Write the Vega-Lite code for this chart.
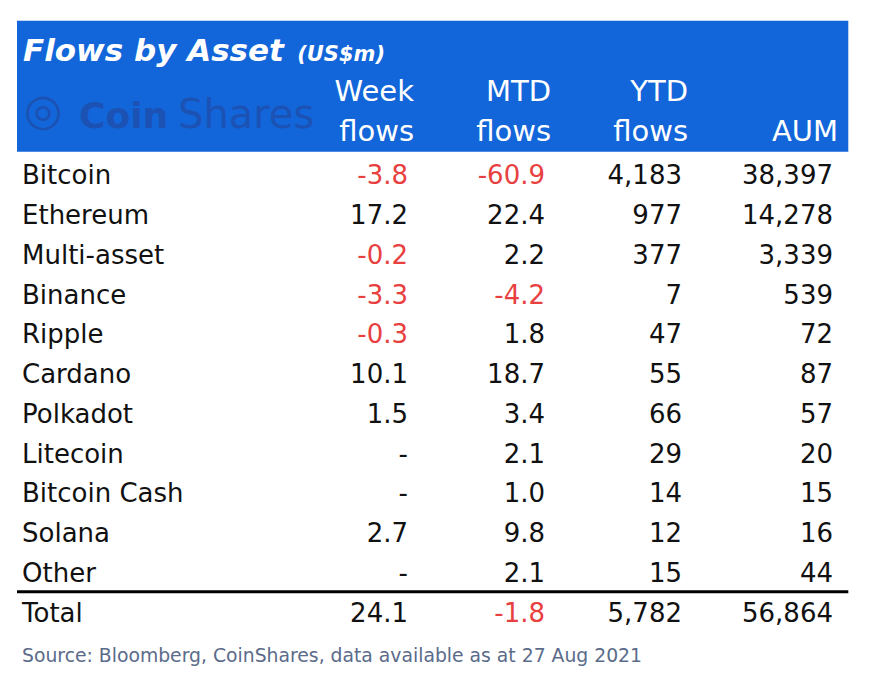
{
  "$schema": "https://vega.github.io/schema/vega-lite/v6.json",
  "width": 876,
  "height": 683,
  "autosize": {"type": "none"},
  "padding": 0,
  "background": "white",
  "config": {"view": {"stroke": null}, "text": {"font": "DejaVu Sans"}},
  "datasets": {
    "cells": [
      {"asset": "Bitcoin", "col": "Week flows", "value": "-3.8"},
      {"asset": "Bitcoin", "col": "MTD flows", "value": "-60.9"},
      {"asset": "Bitcoin", "col": "YTD flows", "value": "4,183"},
      {"asset": "Bitcoin", "col": "AUM", "value": "38,397"},
      {"asset": "Ethereum", "col": "Week flows", "value": "17.2"},
      {"asset": "Ethereum", "col": "MTD flows", "value": "22.4"},
      {"asset": "Ethereum", "col": "YTD flows", "value": "977"},
      {"asset": "Ethereum", "col": "AUM", "value": "14,278"},
      {"asset": "Multi-asset", "col": "Week flows", "value": "-0.2"},
      {"asset": "Multi-asset", "col": "MTD flows", "value": "2.2"},
      {"asset": "Multi-asset", "col": "YTD flows", "value": "377"},
      {"asset": "Multi-asset", "col": "AUM", "value": "3,339"},
      {"asset": "Binance", "col": "Week flows", "value": "-3.3"},
      {"asset": "Binance", "col": "MTD flows", "value": "-4.2"},
      {"asset": "Binance", "col": "YTD flows", "value": "7"},
      {"asset": "Binance", "col": "AUM", "value": "539"},
      {"asset": "Ripple", "col": "Week flows", "value": "-0.3"},
      {"asset": "Ripple", "col": "MTD flows", "value": "1.8"},
      {"asset": "Ripple", "col": "YTD flows", "value": "47"},
      {"asset": "Ripple", "col": "AUM", "value": "72"},
      {"asset": "Cardano", "col": "Week flows", "value": "10.1"},
      {"asset": "Cardano", "col": "MTD flows", "value": "18.7"},
      {"asset": "Cardano", "col": "YTD flows", "value": "55"},
      {"asset": "Cardano", "col": "AUM", "value": "87"},
      {"asset": "Polkadot", "col": "Week flows", "value": "1.5"},
      {"asset": "Polkadot", "col": "MTD flows", "value": "3.4"},
      {"asset": "Polkadot", "col": "YTD flows", "value": "66"},
      {"asset": "Polkadot", "col": "AUM", "value": "57"},
      {"asset": "Litecoin", "col": "Week flows", "value": "-"},
      {"asset": "Litecoin", "col": "MTD flows", "value": "2.1"},
      {"asset": "Litecoin", "col": "YTD flows", "value": "29"},
      {"asset": "Litecoin", "col": "AUM", "value": "20"},
      {"asset": "Bitcoin Cash", "col": "Week flows", "value": "-"},
      {"asset": "Bitcoin Cash", "col": "MTD flows", "value": "1.0"},
      {"asset": "Bitcoin Cash", "col": "YTD flows", "value": "14"},
      {"asset": "Bitcoin Cash", "col": "AUM", "value": "15"},
      {"asset": "Solana", "col": "Week flows", "value": "2.7"},
      {"asset": "Solana", "col": "MTD flows", "value": "9.8"},
      {"asset": "Solana", "col": "YTD flows", "value": "12"},
      {"asset": "Solana", "col": "AUM", "value": "16"},
      {"asset": "Other", "col": "Week flows", "value": "-"},
      {"asset": "Other", "col": "MTD flows", "value": "2.1"},
      {"asset": "Other", "col": "YTD flows", "value": "15"},
      {"asset": "Other", "col": "AUM", "value": "44"},
      {"asset": "Total", "col": "Week flows", "value": "24.1"},
      {"asset": "Total", "col": "MTD flows", "value": "-1.8"},
      {"asset": "Total", "col": "YTD flows", "value": "5,782"},
      {"asset": "Total", "col": "AUM", "value": "56,864"}
    ],
    "headers": [
      {"col": "Week flows", "row": "_h1", "text": "Week"},
      {"col": "Week flows", "row": "_h2", "text": "flows"},
      {"col": "MTD flows", "row": "_h1", "text": "MTD"},
      {"col": "MTD flows", "row": "_h2", "text": "flows"},
      {"col": "YTD flows", "row": "_h1", "text": "YTD"},
      {"col": "YTD flows", "row": "_h2", "text": "flows"},
      {"col": "AUM", "row": "_h2", "text": "AUM"}
    ]
  },
  "layer": [
    {
      "data": {"values": [{"part": "header"}]},
      "mark": {"type": "rect", "color": "#1366d9", "xOffset": -117, "x2Offset": 29.3, "yOffset": -36.55, "y2Offset": 15},
      "encoding": {
        "x": {
          "datum": "Asset", "type": "nominal", "bandPosition": 0,
          "scale": {"type": "band", "domain": ["Asset", "Week flows", "MTD flows", "YTD flows", "AUM"], "paddingInner": 0, "paddingOuter": 0.6971, "align": 0.7016, "round": false},
          "axis": null
        },
        "x2": {"datum": "AUM", "bandPosition": 1},
        "y": {
          "datum": "_title", "type": "nominal", "bandPosition": 0.5,
          "scale": {
            "type": "band",
            "domain": ["_title", "_h1", "_h2", "Bitcoin", "Ethereum", "Multi-asset", "Binance", "Ripple", "Cardano", "Polkadot", "Litecoin", "Bitcoin Cash", "Solana", "Other", "Total", "_source"],
            "paddingInner": 0, "paddingOuter": 0.594, "align": 0.792, "round": false
          },
          "axis": null
        },
        "y2": {"datum": "_h2", "bandPosition": 0.5}
      }
    },
    {
      "data": {"values": [{"part": "line"}]},
      "mark": {"type": "rule", "color": "#000000", "strokeWidth": 3, "xOffset": -117, "x2Offset": 29.3, "yOffset": -21.75},
      "encoding": {
        "x": {"datum": "Asset", "type": "nominal", "bandPosition": 0, "scale": {"type": "band"}, "axis": null},
        "x2": {"datum": "AUM", "bandPosition": 1},
        "y": {"datum": "Total", "type": "nominal", "bandPosition": 0.5, "scale": {"type": "band"}, "axis": null}
      }
    },
    {
      "data": {"values": [{"text": "Flows by Asset"}]},
      "mark": {"type": "text", "align": "left", "baseline": "middle", "dx": -111, "dy": -4.85, "fontSize": 31, "fontWeight": "bold", "fontStyle": "italic", "color": "#ffffff"},
      "encoding": {
        "x": {"datum": "Asset", "type": "nominal", "bandPosition": 0, "scale": {"type": "band"}, "axis": null},
        "y": {"datum": "_title", "type": "nominal", "scale": {"type": "band"}, "axis": null},
        "text": {"field": "text"}
      }
    },
    {
      "data": {"values": [{"text": "(US$m)"}]},
      "mark": {"type": "text", "align": "right", "baseline": "middle", "dx": -23, "dy": -2.55, "fontSize": 21, "fontWeight": "bold", "fontStyle": "italic", "color": "#ffffff"},
      "encoding": {
        "x": {"datum": "Week flows", "type": "nominal", "bandPosition": 1, "scale": {"type": "band"}, "axis": null},
        "y": {"datum": "_title", "type": "nominal", "scale": {"type": "band"}, "axis": null},
        "text": {"field": "text"}
      }
    },
    {
      "data": {"values": [{"text": "◎"}]},
      "mark": {"type": "text", "align": "left", "baseline": "middle", "dx": -110, "dy": 15, "fontSize": 44, "color": "#1b52b4"},
      "encoding": {
        "x": {"datum": "Asset", "type": "nominal", "bandPosition": 0, "scale": {"type": "band"}, "axis": null},
        "y": {"datum": "_h1", "type": "nominal", "scale": {"type": "band"}, "axis": null},
        "text": {"field": "text"}
      }
    },
    {
      "data": {"values": [{"text": "Coin"}]},
      "mark": {"type": "text", "align": "left", "baseline": "middle", "dx": -55, "dy": 20.2, "fontSize": 36, "fontWeight": "bold", "color": "#1b52b4"},
      "encoding": {
        "x": {"datum": "Asset", "type": "nominal", "bandPosition": 0, "scale": {"type": "band"}, "axis": null},
        "y": {"datum": "_h1", "type": "nominal", "scale": {"type": "band"}, "axis": null},
        "text": {"field": "text"}
      }
    },
    {
      "data": {"values": [{"text": "Shares"}]},
      "mark": {"type": "text", "align": "left", "baseline": "middle", "dx": 44, "dy": 19.3, "fontSize": 40, "color": "#1b52b4"},
      "encoding": {
        "x": {"datum": "Asset", "type": "nominal", "bandPosition": 0, "scale": {"type": "band"}, "axis": null},
        "y": {"datum": "_h1", "type": "nominal", "scale": {"type": "band"}, "axis": null},
        "text": {"field": "text"}
      }
    },
    {
      "data": {"name": "headers"},
      "transform": [{"filter": "datum.col !== 'AUM'"}],
      "mark": {"type": "text", "align": "right", "baseline": "middle", "dx": 6, "dy": -5, "fontSize": 29, "color": "#ffffff"},
      "encoding": {
        "x": {"field": "col", "type": "nominal", "bandPosition": 1, "scale": {"type": "band"}, "axis": null},
        "y": {"field": "row", "type": "nominal", "scale": {"type": "band"}, "axis": null},
        "text": {"field": "text"}
      }
    },
    {
      "data": {"name": "headers"},
      "transform": [{"filter": "datum.col === 'AUM'"}],
      "mark": {"type": "text", "align": "right", "baseline": "middle", "dx": 19, "dy": -5, "fontSize": 29, "color": "#ffffff"},
      "encoding": {
        "x": {"field": "col", "type": "nominal", "bandPosition": 1, "scale": {"type": "band"}, "axis": null},
        "y": {"field": "row", "type": "nominal", "scale": {"type": "band"}, "axis": null},
        "text": {"field": "text"}
      }
    },
    {
      "data": {"name": "cells"},
      "transform": [{"filter": "datum.col === 'Week flows'"}],
      "mark": {"type": "text", "align": "left", "baseline": "middle", "dx": -112, "fontSize": 26, "color": "#111111"},
      "encoding": {
        "x": {"datum": "Asset", "type": "nominal", "bandPosition": 0, "scale": {"type": "band"}, "axis": null},
        "y": {"field": "asset", "type": "nominal", "scale": {"type": "band"}, "axis": null},
        "text": {"field": "asset"}
      }
    },
    {
      "data": {"name": "cells"},
      "transform": [{"filter": "datum.col !== 'AUM'"}],
      "mark": {"type": "text", "align": "right", "baseline": "middle", "fontSize": 26},
      "encoding": {
        "x": {"field": "col", "type": "nominal", "bandPosition": 1, "scale": {"type": "band"}, "axis": null},
        "y": {"field": "asset", "type": "nominal", "scale": {"type": "band"}, "axis": null},
        "text": {"field": "value"},
        "color": {"condition": {"test": "indexof(datum.value, '-') === 0 && length(datum.value) > 1", "value": "#e8403f"}, "value": "#111111"}
      }
    },
    {
      "data": {"name": "cells"},
      "transform": [{"filter": "datum.col === 'AUM'"}],
      "mark": {"type": "text", "align": "right", "baseline": "middle", "dx": 14, "fontSize": 26},
      "encoding": {
        "x": {"field": "col", "type": "nominal", "bandPosition": 1, "scale": {"type": "band"}, "axis": null},
        "y": {"field": "asset", "type": "nominal", "scale": {"type": "band"}, "axis": null},
        "text": {"field": "value"},
        "color": {"condition": {"test": "indexof(datum.value, '-') === 0 && length(datum.value) > 1", "value": "#e8403f"}, "value": "#111111"}
      }
    },
    {
      "data": {"values": [{"text": "Source: Bloomberg, CoinShares, data available as at 27 Aug 2021"}]},
      "mark": {"type": "text", "align": "left", "baseline": "middle", "dx": -112, "dy": 2.3, "fontSize": 18.8, "color": "#5b6b8a"},
      "encoding": {
        "x": {"datum": "Asset", "type": "nominal", "bandPosition": 0, "scale": {"type": "band"}, "axis": null},
        "y": {"datum": "_source", "type": "nominal", "scale": {"type": "band"}, "axis": null},
        "text": {"field": "text"}
      }
    }
  ]
}
